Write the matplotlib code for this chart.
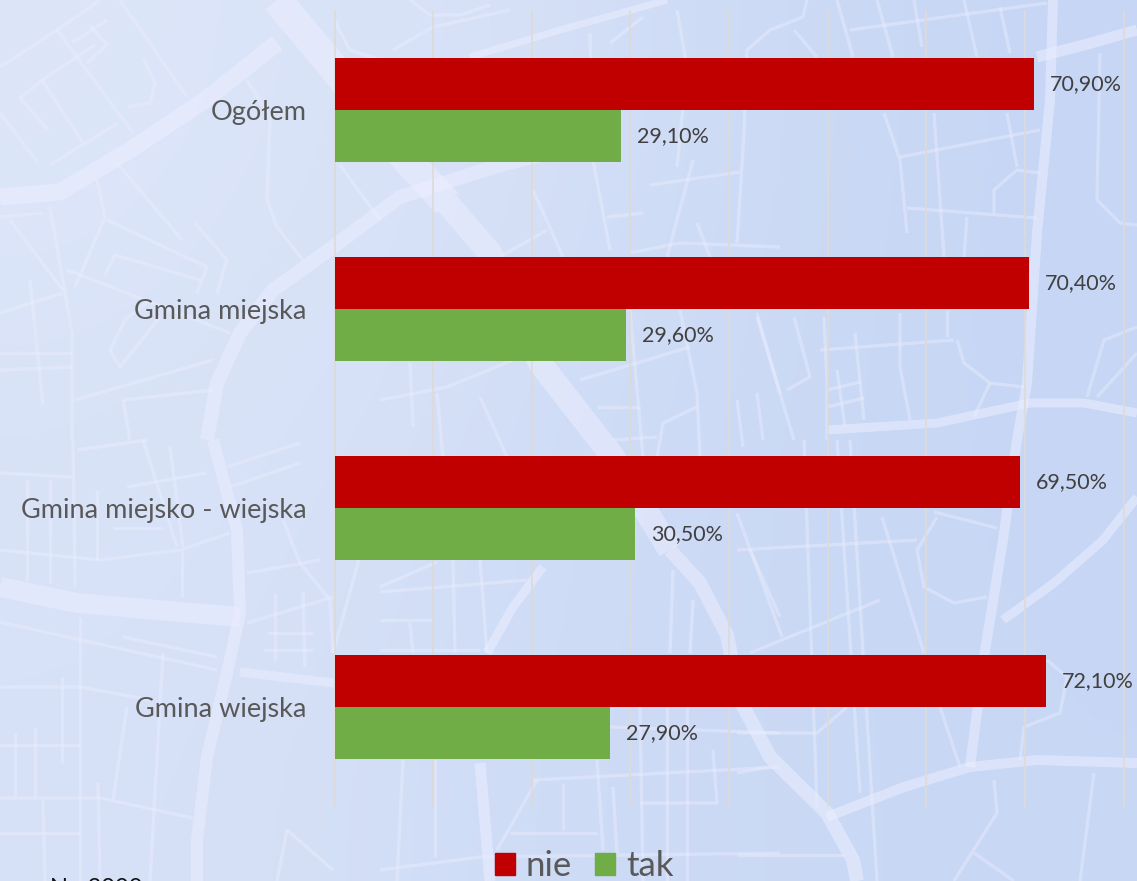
import matplotlib
matplotlib.use('Agg')
import matplotlib.pyplot as plt
from matplotlib.colors import LinearSegmentedColormap
import numpy as np

categories = ['Ogółem', 'Gmina miejska', 'Gmina miejsko - wiejska', 'Gmina wiejska']
nie = [70.9, 70.4, 69.5, 72.1]
tak = [29.1, 29.6, 30.5, 27.9]
ticks = [0, 10, 20, 30, 40, 50, 60, 70, 80]

# street map behind the chart, pixels of the picture: (width, x, y)
wide_streets = [
    (17, [0, 60, 130, 205, 277], [197, 192, 150, 100, 43]),
    (30, [277, 333, 407, 447], [0, 67, 160, 203]),
    (24, [447, 490, 540, 613, 670], [203, 253, 363, 457, 550]),
    (14, [670, 700, 727, 740, 770, 827, 853, 857], [550, 583, 635, 700, 757, 813, 860, 881]),
    (14, [207, 217, 240, 273, 333, 400, 500, 560], [440, 383, 333, 290, 247, 197, 165, 150]),
    (7, [470, 560, 667], [57, 30, 0]),
    (11, [1037, 1084, 1137], [57, 45, 30]),
    (12, [213, 237, 240, 227, 207, 197, 197], [440, 530, 613, 673, 757, 840, 881]),
    (20, [0, 77, 240], [587, 603, 617]),
    (9, [240, 334], [672, 683]),
    (10, [1053, 1050, 1037, 1027, 1017, 1003, 984, 970], [0, 100, 233, 383, 440, 540, 657, 767]),
    (9, [1137, 1103, 1054, 1003], [497, 540, 583, 620]),
    (9, [827, 937, 1030, 1084, 1137], [430, 423, 403, 403, 413]),
    (10, [827, 904, 970, 1037, 1137], [817, 787, 767, 760, 763]),
    (9, [543, 513, 487], [567, 607, 653]),
    (11, [480, 490], [763, 881]),
]
thin_streets = [
    ([0, 57, 100], [67, 30, 0]), ([57, 133], [30, 133]), ([120, 187], [0, 97]),
    ([20, 42, 95], [98, 80, 45]), ([20, 48], [98, 130]), ([42, 83], [80, 143]),
    ([72, 107], [43, 20]), ([87, 107, 90], [63, 45, 25]), ([50, 118], [165, 123]),
    ([0, 38], [113, 163]), ([143, 155, 150, 128], [57, 83, 103, 107]),
    ([117, 182], [163, 240]), ([195, 227, 217], [223, 260, 293]),
    ([97, 105, 75], [180, 217, 287]), ([107, 207, 197], [220, 267, 293]),
    ([67, 230], [270, 333]), ([50, 72, 72], [207, 333, 440]), ([0, 43], [217, 213]),
    ([10, 63], [220, 290]), ([0, 63], [313, 293]), ([30, 43], [280, 405]),
    ([0, 72], [370, 367]), ([0, 72], [353, 353]), ([75, 213], [400, 360]),
    ([247, 270, 267, 277, 303], [80, 117, 200, 227, 260]),
    ([160, 120, 110, 125, 150], [317, 367, 350, 320, 300]), ([123, 213], [400, 390]),
    ([123, 130], [400, 440]), ([105, 115, 200], [275, 255, 280]),
    ([0, 72], [473, 477]), ([77, 147], [450, 440]),
    ([0, 100, 180, 230], [550, 560, 550, 533]), ([27, 27], [480, 580]),
    ([50, 50], [480, 583]), ([73, 75], [440, 587]), ([97, 97], [490, 560]),
    ([143, 177], [440, 547]), ([170, 183], [447, 547]), ([127, 207], [487, 473]),
    ([113, 163], [528, 528]), ([182, 182], [550, 597]), ([80, 80], [617, 881]),
    ([0, 217], [622, 670]), ([123, 217], [637, 657]), ([163, 150], [653, 881]),
    ([0, 80, 150], [687, 687, 700]), ([127, 113], [707, 800]), ([62, 62], [677, 763]),
    ([0, 80], [745, 745]), ([15, 15], [733, 797]), ([35, 35], [727, 797]),
    ([0, 100, 193], [798, 798, 818]), ([0, 80], [833, 833]), ([43, 45], [800, 881]),
    ([98, 100], [783, 881]), ([287, 333], [830, 870]), ([287, 277], [830, 881]),
    ([247, 320], [573, 560]), ([227, 300], [467, 443]), ([230, 300], [487, 463]),
    ([247, 333], [623, 597]), ([275, 275], [593, 660]), ([303, 305], [592, 667]),
    ([267, 313], [633, 633]), ([263, 313], [650, 650]),
    ([283, 300, 330, 333], [520, 563, 600, 653]), ([333, 370, 400], [653, 520, 510]),
    ([593, 610], [160, 250]), ([533, 563], [190, 257]), ([607, 643], [217, 213]),
    ([650, 740], [185, 172]), ([693, 667], [160, 257]), ([697, 710], [223, 257]),
    ([630, 680, 780], [253, 243, 247]), ([503, 547], [255, 230]),
    ([380, 447, 513], [400, 387, 360]), ([410, 413], [363, 427]), ([437, 443], [393, 457]),
    ([480, 507], [397, 457]), ([580, 690], [380, 347]), ([680, 697, 700], [310, 393, 457]),
    ([630, 643], [310, 457]), ([597, 640], [407, 407]),
    ([657, 663, 697], [457, 423, 407]), ([613, 657], [440, 437]), ([737, 743], [400, 447]),
    ([757, 763], [393, 440]), ([757, 780], [313, 393]),
    ([837, 853], [0, 57]), ([850, 1047], [30, 3]), ([877, 893], [0, 57]), ([914, 922], [0, 47]),
    ([964, 977], [0, 57]), ([1000, 1010], [7, 53]),
    ([807, 803, 770, 747, 744, 737], [0, 17, 30, 50, 133, 243]), ([794, 817], [30, 57]),
    ([884, 900, 907], [113, 160, 233]), ([900, 1040], [157, 130]), ([934, 944], [113, 257]),
    ([1007, 1017], [113, 167]), ([994, 994, 1017, 1040], [213, 190, 170, 173]),
    ([907, 1037], [208, 218]), ([967, 964], [217, 257]),
    ([1100, 1097, 1120, 1137], [53, 200, 223, 225]),
    ([1137, 1104, 1087], [327, 340, 397]), ([1137, 1097], [353, 397]),
    ([957, 964, 990, 1024], [340, 363, 383, 387]), ([990, 974], [383, 417]),
    ([757, 794], [317, 440]), ([794, 810, 787], [317, 377, 390]), ([820, 954], [350, 340]),
    ([855, 864], [333, 420]), ([900, 900, 910], [313, 367, 420]), ([947, 947], [310, 337]),
    ([824, 827, 827], [317, 383, 440]), ([837, 845], [370, 427]), ([827, 860], [390, 382]),
    ([827, 864], [407, 398]),
    ([737, 917], [550, 540]), ([804, 817], [440, 807]), ([837, 860], [440, 793]),
    ([850, 877], [440, 881]), ([737, 782], [513, 637]), ([750, 880], [653, 600]),
    ([882, 924], [517, 653]), ([940, 960], [707, 767]), ([934, 997], [512, 528]),
    ([937, 917, 924, 954, 987], [517, 550, 587, 603, 597]),
    ([1047, 1067, 1060, 1024, 1020], [660, 677, 713, 727, 760]), ([737, 770], [773, 767]),
    ([737, 817, 847], [733, 733, 707]), ([994, 997, 954], [780, 813, 881]),
    ([974, 1014], [853, 881]), ([1094, 1080], [773, 881]), ([737, 844], [855, 855]),
    ([380, 437], [587, 562]), ([380, 527], [592, 580]), ([380, 433], [620, 620]),
    ([453, 455], [560, 653]), ([480, 487], [560, 653]), ([410, 413], [623, 653]),
    ([380, 480], [650, 650]), ([403, 397], [760, 881]), ([435, 435], [760, 857]),
    ([533, 780], [780, 767]), ([537, 497], [780, 850]), ([510, 597], [833, 833]),
    ([563, 563], [783, 830]), ([597, 603], [760, 850]), ([613, 617], [787, 853]),
    ([640, 643], [707, 881]), ([667, 667], [707, 881]), ([687, 687], [707, 881]),
    ([640, 717, 713], [803, 803, 750]), ([610, 780], [727, 733]),
    ([380, 480, 780], [870, 857, 853]), ([673, 670], [570, 653]), ([693, 690], [600, 653]),
    ([750, 780], [550, 617]),
    ([393, 433, 510], [50, 27, 10]), ([410, 430, 460, 490], [0, 15, 15, 5]),
    ([590, 593], [33, 160]), ([610, 643], [43, 17]), ([677, 687, 677], [10, 67, 167]),
    ([334, 350, 380], [20, 50, 60]), ([340, 380], [165, 220]),
]

fig = plt.figure(figsize=(11.37, 8.81), dpi=100)

bg = fig.add_axes([0, 0, 1, 1], zorder=0)
cmap = LinearSegmentedColormap.from_list('map_bg', ['#dde6f9', '#d5e0f7', '#c6d6f4'])
grad = np.array([[0.0, 0.55, 1.0], [0.25, 0.7, 1.0], [0.4, 0.75, 0.95]])
bg.imshow(grad, cmap=cmap, extent=[0, 1137, 881, 0], aspect='auto', interpolation='bicubic', vmin=0, vmax=1)
for w, xs, ys in wide_streets:
    bg.plot(xs, ys, color='#eceeff', lw=w * 0.72, alpha=0.55, solid_capstyle='butt', solid_joinstyle='round')
for xs, ys in thin_streets:
    bg.plot(xs, ys, color='#eceeff', lw=2.4, alpha=0.42, solid_capstyle='butt', solid_joinstyle='round')
bg.set_xlim(0, 1137)
bg.set_ylim(881, 0)
bg.axis('off')

ax = fig.add_axes([334.5 / 1137, 1 - 806 / 881, 789 / 1137, 795 / 881], zorder=1)
ax.patch.set_alpha(0)

y = np.arange(len(categories))
h = 52 / 198.75
ax.barh(y - h, nie, height=h, align='edge', color='#c00000', zorder=3)
ax.barh(y, tak, height=h, align='edge', color='#70ad47', zorder=3)

for i in range(len(categories)):
    ax.text(nie[i] + 1.62, y[i] - h / 2, f'{nie[i]:.2f}%'.replace('.', ','), va='center', ha='left',
            fontsize=15.5, color='#404040', family='Lato')
    ax.text(tak[i] + 1.62, y[i] + h / 2, f'{tak[i]:.2f}%'.replace('.', ','), va='center', ha='left',
            fontsize=15.5, color='#404040', family='Lato')

ax.set_xlim(0, 80)
ax.set_ylim(3.5, -0.5)
ax.set_xticks(ticks)
ax.set_xticklabels([])
ax.set_yticks(y)
ax.set_yticklabels(categories, fontsize=19.5, color='#595959', family='Lato')
ax.tick_params(axis='both', length=0, pad=20)
ax.grid(True, axis='x', color='#dedad6', lw=1.2, zorder=1)
for line in ax.get_xgridlines():
    line.set_clip_on(False)
for s in ax.spines.values():
    s.set_visible(False)

handles = [plt.Rectangle((0, 0), 1, 1, color='#c00000'), plt.Rectangle((0, 0), 1, 1, color='#70ad47')]
fig.legend(handles, ['nie', 'tak'], loc='center', bbox_to_anchor=(584 / 1137, 1 - 866 / 881), ncol=2, frameon=False,
           prop={'family': 'Lato', 'size': 25}, handlelength=0.6, handleheight=0.6, handletextpad=0.3,
           columnspacing=0.65, labelcolor='#595959', borderpad=0)

fig.text(50 / 1137, 1 - 895 / 881, 'N= 2000', fontsize=17, color='#111111', family='Lato', va='baseline')

plt.savefig('out.png', dpi=100)
